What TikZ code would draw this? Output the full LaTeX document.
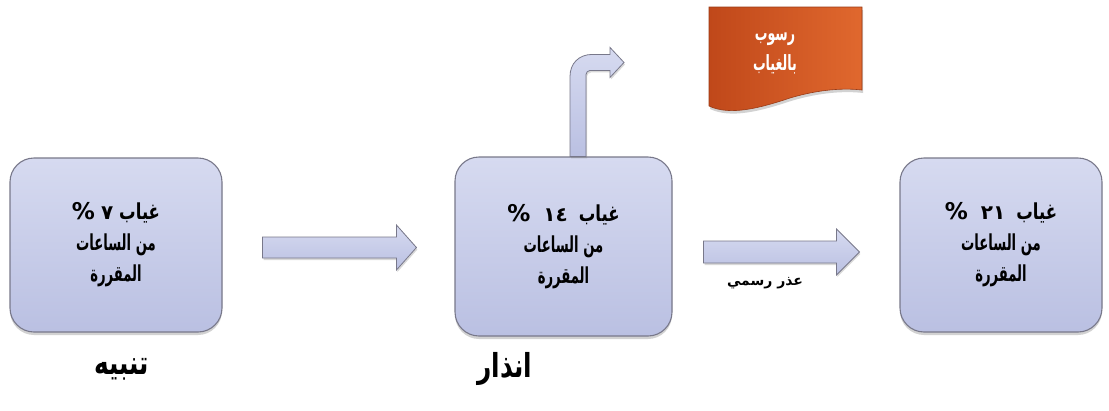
\documentclass[tikz,border=0pt]{standalone}
\usepackage{fontspec}
\usetikzlibrary{shadows,calc}
\TeXXeTstate=1
\newfontfamily\arabicfont[Script=Arabic, FakeStretch=0.6]{DejaVu Sans}
\newfontfamily\arabicwide[Script=Arabic, FakeStretch=0.75]{DejaVu Sans}
\newfontfamily\arabicplain[Script=Arabic]{DejaVu Sans}
\definecolor{boxtop}{RGB}{214,218,240}
\definecolor{boxbot}{RGB}{186,192,226}
\definecolor{boxline}{RGB}{120,120,138}
\definecolor{orA}{RGB}{192,72,26}
\definecolor{orB}{RGB}{224,104,46}
\newcommand{\numtxt}[1]{{\arabicplain\fontsize{20}{31}\selectfont #1}}
\newcommand{\pcttxt}{{\arabicplain\fontsize{23}{31}\selectfont\%}}
\newcommand{\absword}{{\arabicwide غياب}}
\tikzset{
  absbox/.style={draw=boxline, line width=1.1pt, rounded corners=24pt,
    top color=boxtop, bottom color=boxbot, align=center,
    font=\arabicfont\bfseries\fontsize{22}{31}\selectfont,
    drop shadow={opacity=0.35, shadow xshift=0pt, shadow yshift=-3pt}},
  blockarrow/.style={draw=boxline, line width=0.8pt, top color=boxtop, bottom color=boxbot,
    drop shadow={opacity=0.3, shadow xshift=1pt, shadow yshift=-2pt}},
  doctag/.style={draw=orA!80!black, line width=0.6pt, left color=orA, right color=orB,
    drop shadow={opacity=0.35, shadow xshift=1pt, shadow yshift=-3pt}},
  doctext/.style={text=white, align=center, font=\arabicfont\bfseries\fontsize{21}{30}\selectfont},
  arrowlabel/.style={font=\arabicplain\bfseries\fontsize{14}{16}\selectfont},
  stagelabel/.style={font=\arabicwide\bfseries\fontsize{33}{36}\selectfont},
}
\begin{document}
\begin{tikzpicture}[x=1pt,y=-1pt]
\useasboundingbox (0,0) rectangle (1109,410);
\fill[white] (0,0) rectangle (1109,410);

% boxes
\node[absbox, minimum width=212pt, minimum height=174pt] (b1) at (116,245)
  {\beginR\absword\hspace{6pt}\numtxt{٧}\hspace{6pt}\pcttxt\endR\\ \beginR من الساعات\endR\\ \beginR المقررة\endR};
\node[absbox, minimum width=217pt, minimum height=179pt] (b2) at (563.5,246.5)
  {\beginR\absword\hspace{11pt}\numtxt{١٤}\hspace{13pt}\pcttxt\endR\\ \beginR من الساعات\endR\\ \beginR المقررة\endR};
\node[absbox, minimum width=202pt, minimum height=174pt] (b3) at (1001,245)
  {\beginR\absword\hspace{11pt}\numtxt{٢١}\hspace{13pt}\pcttxt\endR\\ \beginR من الساعات\endR\\ \beginR المقررة\endR};

% arrow 1
\coordinate (a1s) at ($(b1.east)+(40,2.5)$);
\coordinate (a1e) at ($(b2.west)+(-38,1)$);
\path[blockarrow] ($(a1s)+(0,-10.5)$) -- ($(a1e)+(-20,-10.5)$) -- ($(a1e)+(-20,-22.5)$)
  -- (a1e) -- ($(a1e)+(-20,22.5)$) -- ($(a1e)+(-20,10.5)$) -- ($(a1s)+(0,10.5)$) -- cycle;

% arrow 2
\coordinate (a2s) at ($(b2.east)+(31,5.5)$);
\coordinate (a2e) at ($(b3.west)+(-40,7)$);
\path[blockarrow] ($(a2s)+(0,-11)$) -- ($(a2e)+(-23,-11)$) -- ($(a2e)+(-23,-23)$)
  -- (a2e) -- ($(a2e)+(-23,23)$) -- ($(a2e)+(-23,11)$) -- ($(a2s)+(0,11)$) -- cycle;
\node[arrowlabel] (lab) at (765,283) {\beginR عذر رسمي\endR};

% bent arrow
\coordinate (bs) at ($(b2.north)+(14.5,0)$);
\begin{scope}[shift={(bs)}]
\path[blockarrow] (-8,0) -- (-8,-80) .. controls (-8,-93) and (1,-102) .. (14,-102)
  -- (32,-102) -- (32,-109) -- (46,-94) -- (32,-79) -- (32,-86) -- (12,-86)
  .. controls (10,-86) and (8,-84) .. (8,-82) -- (8,0) -- cycle;
\end{scope}

% document shape
\path[doctag] (709,7) -- (862,7) -- (862,90) .. controls (845,88) and (820,89) .. (790,98)
  .. controls (760,108) and (730,116) .. (709,106) -- cycle;
\node[doctext] (fail) at (775,53) {\beginR رسوب\endR\\ \beginR بالغياب\endR};

% stage labels
\node[stagelabel] (s1) at (122,369) {\beginR تنبيه\endR};
\node[stagelabel] (s2) at (505,369) {\beginR انذار\endR};
\end{tikzpicture}
\end{document}
